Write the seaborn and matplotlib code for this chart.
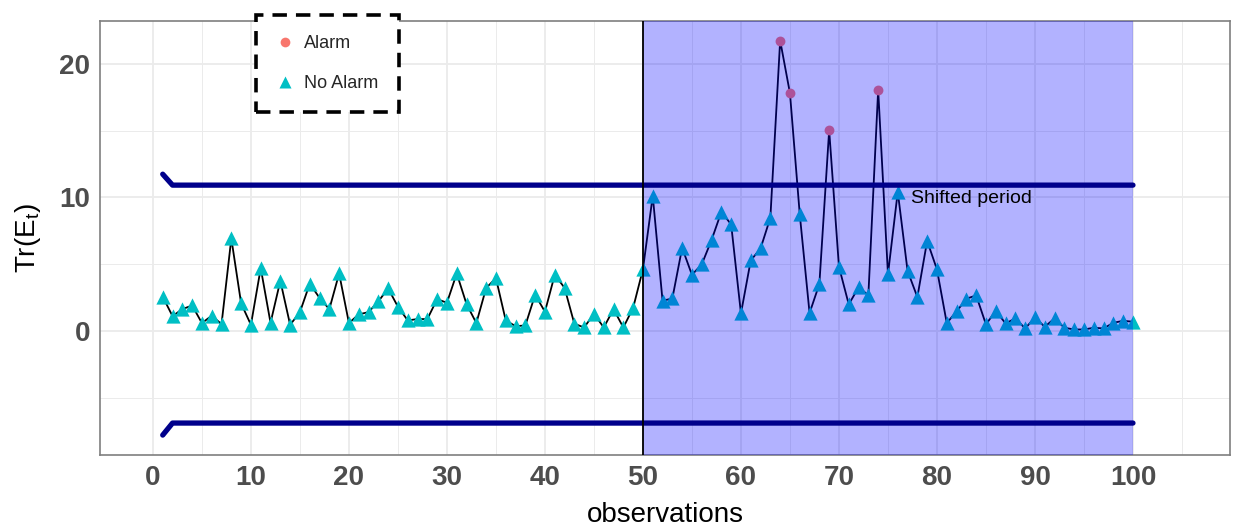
import numpy as np
import pandas as pd
import matplotlib
matplotlib.use("Agg")
import matplotlib.pyplot as plt
import seaborn as sns
from matplotlib.lines import Line2D

# ---------------- data ----------------
observations = list(range(1, 101))
tr_values = [
    2.57, 1.12, 1.64, 1.92, 0.60, 1.15, 0.52, 6.93, 2.07, 0.47,
    4.71, 0.62, 3.76, 0.47, 1.42, 3.54, 2.49, 1.64, 4.31, 0.60,
    1.25, 1.42, 2.22, 3.19, 1.82, 0.80, 0.90, 0.90, 2.39, 2.12,
    4.31, 2.02, 0.60, 3.22, 3.96, 0.80, 0.37, 0.42, 2.72, 1.45,
    4.21, 3.24, 0.55, 0.27, 1.30, 0.27, 1.64, 0.27, 1.74, 4.63,
    10.12, 2.27, 2.44, 6.23, 4.21, 4.99, 6.81, 8.92, 7.98, 1.32,
    5.29, 6.18, 8.48, 21.74, 17.80, 8.73, 1.35, 3.52, 15.03, 4.81,
    2.00, 3.27, 2.69, 18.05, 4.25, 10.42, 4.51, 2.54, 6.75, 4.61,
    0.60, 1.47, 2.42, 2.67, 0.50, 1.52, 0.57, 0.95, 0.20, 1.02,
    0.32, 0.95, 0.25, 0.12, 0.12, 0.25, 0.20, 0.62, 0.77, 0.70,
]
ucl_values = [11.74] + [10.92] * 99
lcl_values = [-7.78] + [-6.88] * 99
shift_start = 50
shift_end = 100
status_labels = ["Alarm", "No Alarm"]
status_colors = {"Alarm": "#F8766D", "No Alarm": "#00BFC4"}
status_markers = {"Alarm": "o", "No Alarm": "^"}
status_sizes = {"Alarm": 50, "No Alarm": 105}
x_ticks = list(range(0, 101, 10))
y_ticks = [0, 10, 20]

status = ["Alarm" if v > u else "No Alarm" for v, u in zip(tr_values, ucl_values)]
df = pd.DataFrame({"obs": observations, "tr": tr_values, "status": status,
                   "ucl": ucl_values, "lcl": lcl_values})

# ---------------- style ----------------
sns.set_style("white")
plt.rcParams["font.family"] = ["Liberation Sans", "DejaVu Sans"]
plt.rcParams["mathtext.default"] = "regular"

fig = plt.figure(figsize=(12.36, 5.27), dpi=100)
ax = fig.add_axes([100 / 1236, 1 - 455 / 527, 1130 / 1236, 434 / 527])

ax.set_xlim(-5.4, 109.9)
ax.set_ylim(-9.27, 23.2)

# grid
ax.set_xticks(x_ticks)
ax.set_xticks(list(range(5, 110, 10)), minor=True)
ax.set_yticks(y_ticks)
ax.set_yticks([-5, 5, 15], minor=True)
ax.grid(which="major", color="#EBEBEB", lw=1.3, zorder=0)
ax.grid(which="minor", color="#EBEBEB", lw=0.7, zorder=0)
ax.set_axisbelow(True)

# series
sns.lineplot(data=df, x="obs", y="tr", color="black", lw=1.3, ax=ax,
             estimator=None, sort=False, zorder=2, legend=False)
for k in status_labels:
    sub = df[df["status"] == k]
    sns.scatterplot(data=sub, x="obs", y="tr", color=status_colors[k],
                    marker=status_markers[k], s=status_sizes[k],
                    linewidth=0, ax=ax, zorder=2.5, legend=False)

# shifted period region
ax.axvspan(shift_start, shift_end, color="blue", alpha=0.3, lw=0, zorder=3)

# control limits
sns.lineplot(data=df, x="obs", y="ucl", color="#00008B", lw=3.8, ax=ax,
             estimator=None, zorder=4, legend=False)
sns.lineplot(data=df, x="obs", y="lcl", color="#00008B", lw=3.8, ax=ax,
             estimator=None, zorder=4, legend=False)
ax.axvline(shift_start, color="black", lw=1.3, zorder=4)

ax.text(77.4, 9.9, "Shifted period", fontsize=14, color="black",
        ha="left", va="center", zorder=5)

# axes styling
for sp in ax.spines.values():
    sp.set_color("#7F7F7F")
    sp.set_linewidth(1.2)
ax.tick_params(axis="both", which="major", length=4, width=1, color="#333333",
               labelsize=20, labelcolor="#4D4D4D", pad=3)
ax.tick_params(axis="both", which="minor", length=0)
for lab in ax.get_xticklabels() + ax.get_yticklabels():
    lab.set_fontweight("bold")

ax.set_xlabel("observations", fontsize=20, color="black", labelpad=8)
ax.set_ylabel("Tr(E$_t$)", fontsize=20, color="black", labelpad=12)

# legend
handles = [Line2D([0], [0], marker=status_markers[k], color="none",
                  markerfacecolor=status_colors[k], markeredgecolor="none",
                  markersize=7 if k == "Alarm" else 9) for k in status_labels]
leg = fig.legend(handles, status_labels, loc="upper left",
                 bbox_to_anchor=(256 / 1236, 1 - 15 / 527),
                 bbox_transform=fig.transFigure, fontsize=13,
                 frameon=True, fancybox=False, handlelength=1.0,
                 handletextpad=0.52, labelspacing=1.25, borderpad=1.13,
                 borderaxespad=0)
frame = leg.get_frame()
frame.set_edgecolor("black")
frame.set_linewidth(2.6)
frame.set_linestyle((0, (4, 2.5)))
frame.set_facecolor("white")
frame.set_alpha(1)

fig.savefig("out.png", dpi=100)
